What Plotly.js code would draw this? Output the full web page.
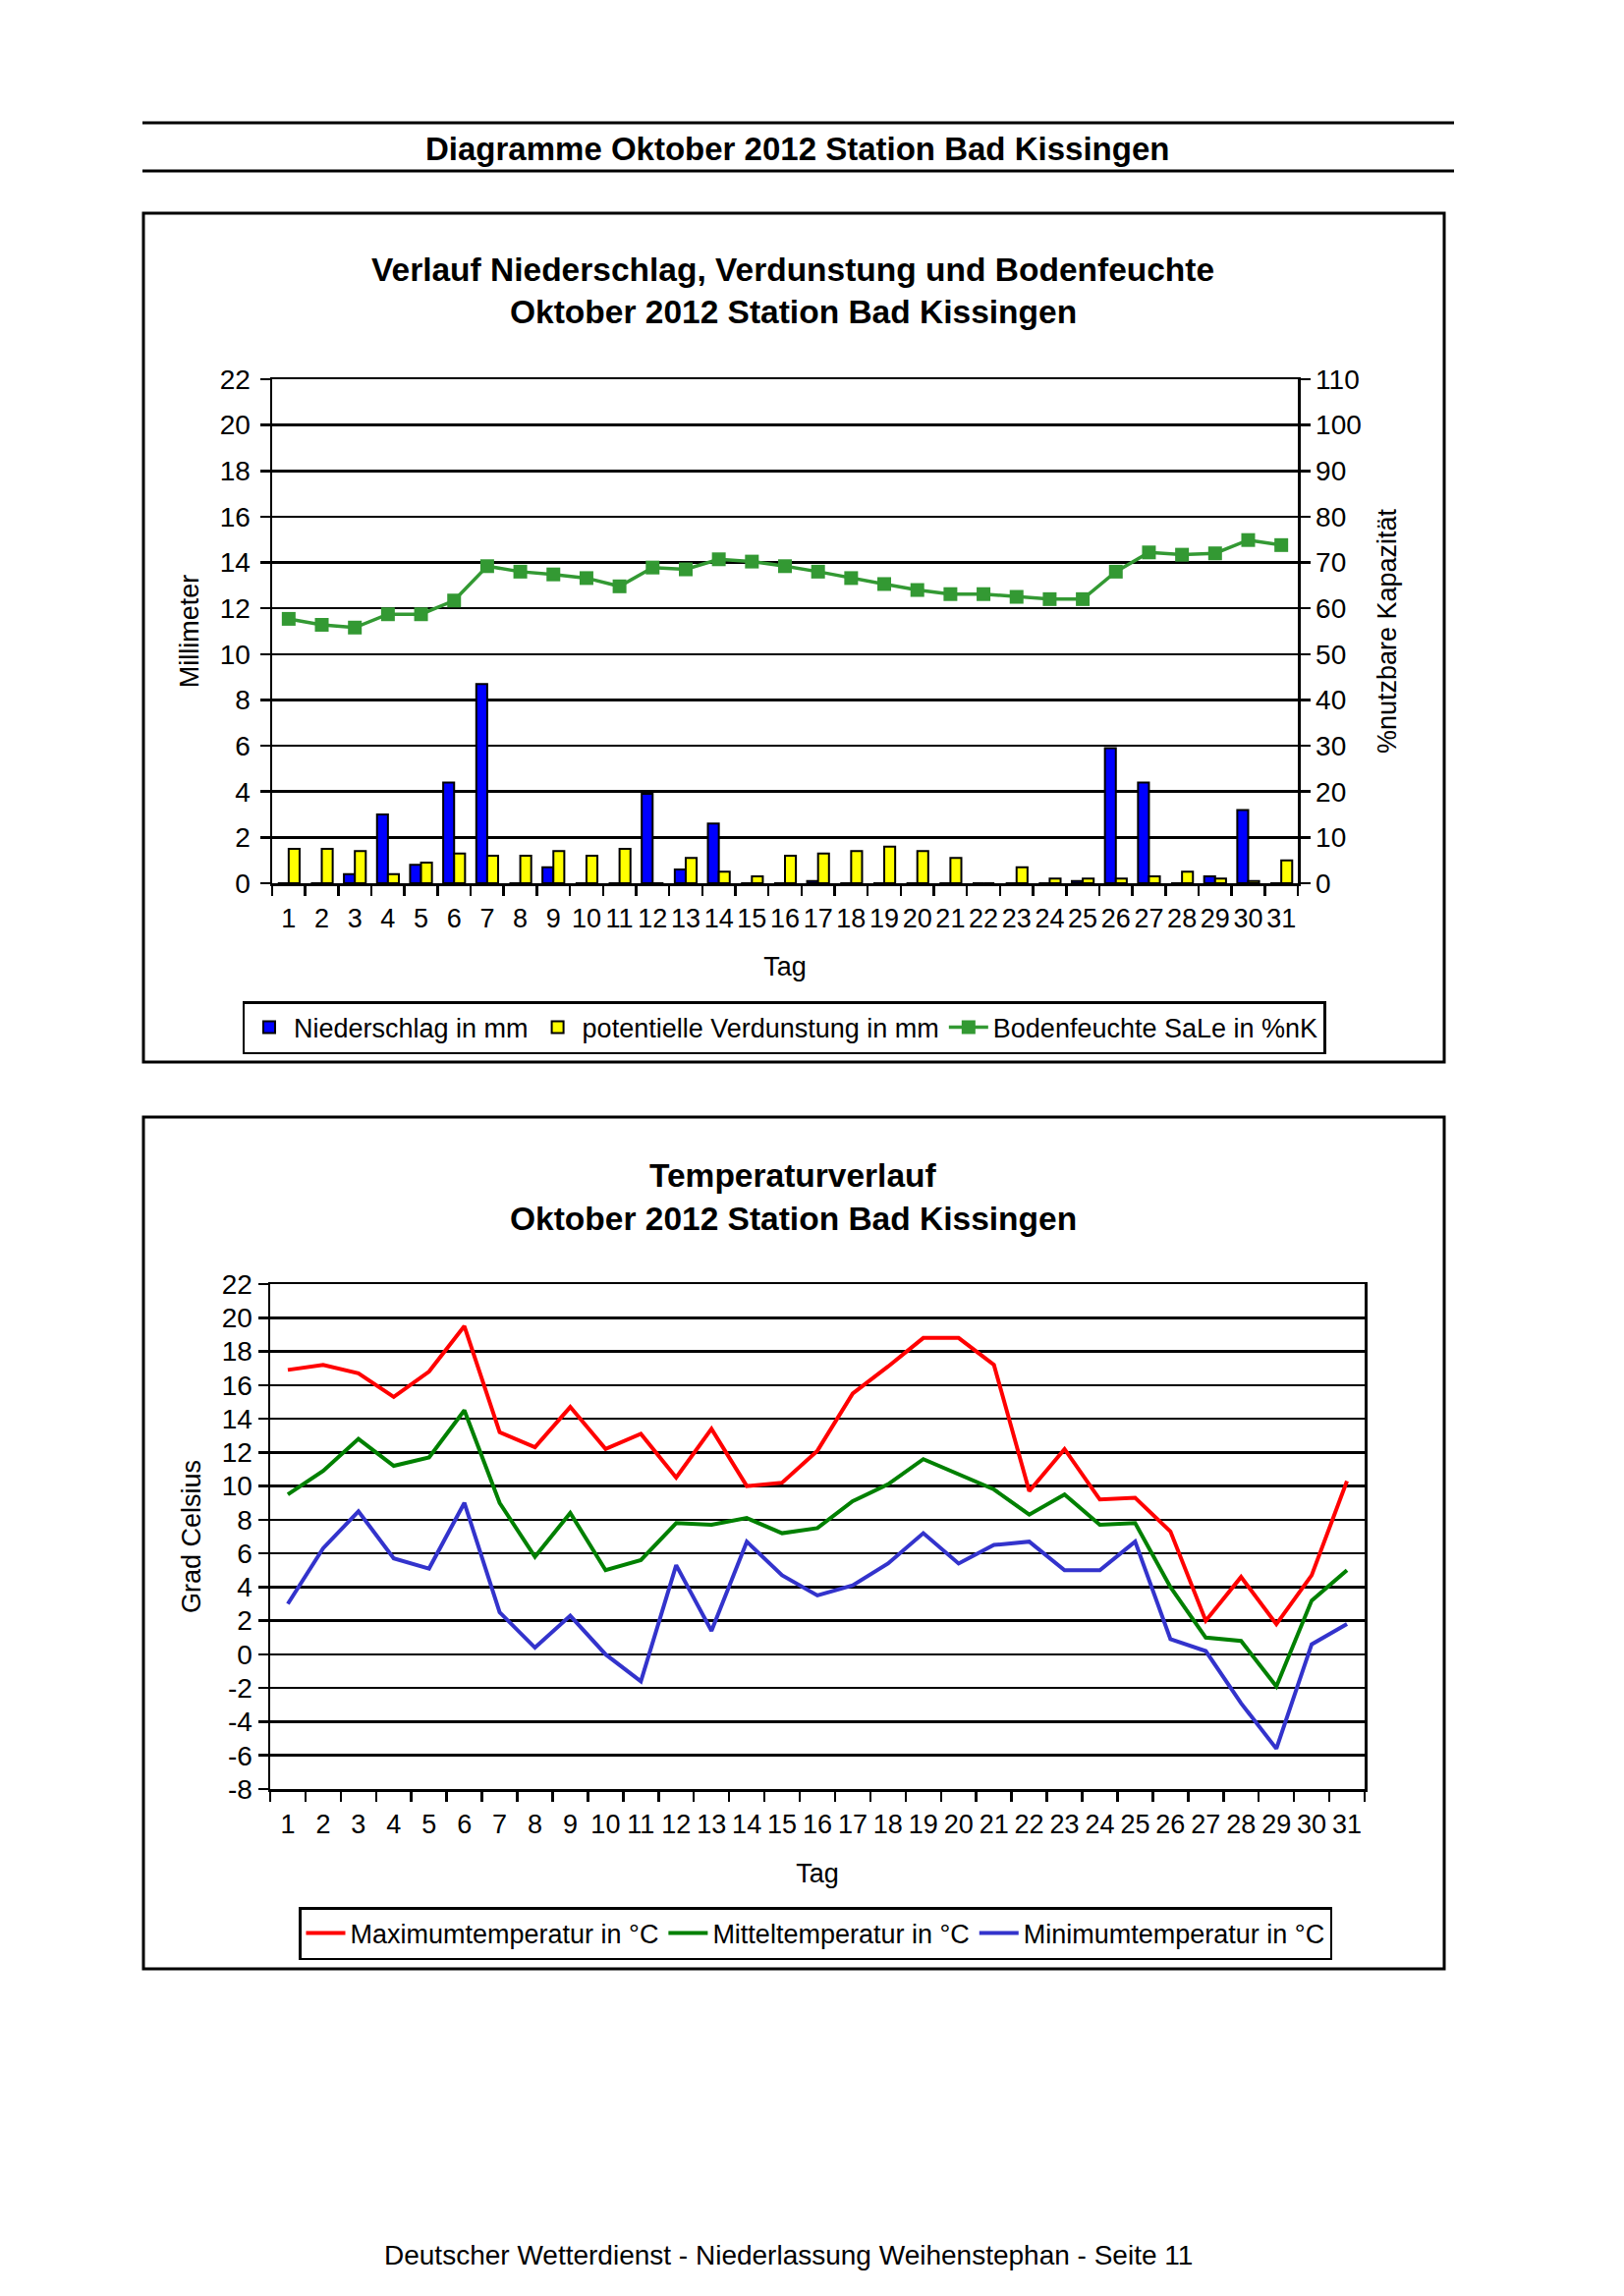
<!DOCTYPE html>
<html>
<head>
<meta charset="utf-8">
<script src="https://cdn.plot.ly/plotly-3.0.1.min.js"></script>
<style>
  html, body { margin: 0; padding: 0; background: #ffffff; }
  #chart { width: 1653px; height: 2337px; }
</style>
</head>
<body>
<div id="chart"></div>
<script>
// ---------- data ----------
var days = ['1','2','3','4','5','6','7','8','9','10','11','12','13','14','15','16','17','18','19','20','21','22','23','24','25','26','27','28','29','30','31'];

var niederschlag = [0, 0, 0.4, 3.0, 0.8, 4.4, 8.7, 0, 0.7, 0, 0, 3.9, 0.6, 2.6, 0, 0, 0.1, 0, 0, 0, 0, 0, 0, 0, 0.1, 5.9, 4.4, 0, 0.3, 3.2, 0];
var verdunstung  = [1.5, 1.5, 1.4, 0.4, 0.9, 1.3, 1.2, 1.2, 1.4, 1.2, 1.5, 0, 1.1, 0.5, 0.3, 1.2, 1.3, 1.4, 1.6, 1.4, 1.1, 0, 0.7, 0.2, 0.2, 0.2, 0.3, 0.5, 0.2, 0.1, 1.0];
var bodenfeuchte = [57.7, 56.4, 55.8, 58.7, 58.7, 61.7, 69.2, 68.0, 67.4, 66.6, 64.8, 68.9, 68.5, 70.7, 70.2, 69.2, 68.0, 66.6, 65.3, 64.0, 63.1, 63.1, 62.5, 62.0, 62.0, 68.0, 72.2, 71.7, 72.0, 74.9, 73.8];

var tmax = [16.9, 17.2, 16.7, 15.3, 16.8, 19.5, 13.2, 12.3, 14.7, 12.2, 13.1, 10.5, 13.4, 10.0, 10.2, 12.1, 15.5, 17.1, 18.8, 18.8, 17.2, 9.7, 12.2, 9.2, 9.3, 7.3, 2.0, 4.6, 1.8, 4.7, 10.3];
var tmit = [9.5, 10.9, 12.8, 11.2, 11.7, 14.5, 9.0, 5.8, 8.4, 5.0, 5.6, 7.8, 7.7, 8.1, 7.2, 7.5, 9.1, 10.1, 11.6, 10.7, 9.8, 8.3, 9.5, 7.7, 7.8, 4.0, 1.0, 0.8, -1.9, 3.2, 5.0];
var tmin = [3.0, 6.3, 8.5, 5.7, 5.1, 9.0, 2.5, 0.4, 2.3, 0.0, -1.6, 5.3, 1.4, 6.7, 4.7, 3.5, 4.1, 5.4, 7.2, 5.4, 6.5, 6.7, 5.0, 5.0, 6.7, 0.9, 0.2, -2.9, -5.6, 0.6, 1.8];

// temperature axis tick labels (plain hyphen minus as in the original)
var tempTickVals = [-8, -6, -4, -2, 0, 2, 4, 6, 8, 10, 12, 14, 16, 18, 20, 22];
var tempTickText = ['-8', '-6', '-4', '-2', '0', '2', '4', '6', '8', '10', '12', '14', '16', '18', '20', '22'];

// ---------- texts ----------
var headerText = 'Diagramme Oktober 2012 Station Bad Kissingen';
var title1a = 'Verlauf Niederschlag, Verdunstung und Bodenfeuchte';
var title1b = 'Oktober 2012 Station Bad Kissingen';
var title2a = 'Temperaturverlauf';
var title2b = 'Oktober 2012 Station Bad Kissingen';
var footerText = 'Deutscher Wetterdienst - Niederlassung Weihenstephan - Seite 11';

// ---------- geometry helpers (page pixels -> paper) ----------
var W = 1653, H = 2337;
function px(x) { return x / W; }
function py(y) { return 1 - y / H; }

var FONT = 'Liberation Sans, Arial, sans-serif';
var tickFont = { family: FONT, size: 28, color: '#000' };
var xTickFont = { family: FONT, size: 27, color: '#000' };
var axTitleFont = { family: FONT, size: 27, color: '#000' };

var traces = [
  { type: 'bar', x: days, y: niederschlag, name: 'Niederschlag in mm', xaxis: 'x', yaxis: 'y',
    marker: { color: '#0000FF', line: { color: '#000', width: 2 } }, legend: 'legend' },
  { type: 'bar', x: days, y: verdunstung, name: 'potentielle Verdunstung in mm', xaxis: 'x', yaxis: 'y',
    marker: { color: '#FFFF00', line: { color: '#000', width: 2 } }, legend: 'legend' },
  { type: 'scatter', mode: 'lines+markers', x: days, y: bodenfeuchte, name: 'Bodenfeuchte SaLe in %nK',
    xaxis: 'x', yaxis: 'y2', line: { color: '#339933', width: 3.5 },
    marker: { symbol: 'square', size: 14, color: '#339933' }, legend: 'legend' },
  { type: 'scatter', mode: 'lines', x: days, y: tmax, name: 'Maximumtemperatur in °C', xaxis: 'x2', yaxis: 'y3',
    line: { color: '#FF0000', width: 4 }, legend: 'legend2' },
  { type: 'scatter', mode: 'lines', x: days, y: tmit, name: 'Mitteltemperatur in °C', xaxis: 'x2', yaxis: 'y3',
    line: { color: '#008000', width: 4 }, legend: 'legend2' },
  { type: 'scatter', mode: 'lines', x: days, y: tmin, name: 'Minimumtemperatur in °C', xaxis: 'x2', yaxis: 'y3',
    line: { color: '#3333CC', width: 4 }, legend: 'legend2' }
];

var xCommon = {
  type: 'category', tickmode: 'linear', tick0: 0, dtick: 1,
  tickson: 'boundaries', ticks: 'outside', ticklen: 10, tickwidth: 2.5, tickcolor: '#000',
  showline: true, linecolor: '#000', linewidth: 2.5, mirror: true, showgrid: false, zeroline: false,
  tickfont: xTickFont, tickangle: 0, ticklabelstandoff: 10, range: [-0.5, 30.5], automargin: false, fixedrange: true
};
var yCommon = {
  ticks: 'outside', ticklen: 10, tickwidth: 2.5, tickcolor: '#000', showline: true, linecolor: '#000',
  linewidth: 2.5, showgrid: true, gridcolor: '#000', gridwidth: 2.5, zeroline: false, tickfont: tickFont,
  automargin: false, fixedrange: true
};

var layout = {
  width: W, height: H,
  margin: { l: 0, r: 0, t: 0, b: 0, pad: 0 },
  paper_bgcolor: '#ffffff', plot_bgcolor: 'rgba(0,0,0,0)',
  font: { family: FONT, size: 27, color: '#000' },
  barmode: 'group', bargap: 0.34, bargroupgap: 0,
  xaxis: Object.assign({}, xCommon, { domain: [px(277), px(1321)], anchor: 'y',
    title: { text: 'Tag', font: axTitleFont, standoff: 25 } }),
  yaxis: Object.assign({}, yCommon, { domain: [py(899), py(386)], anchor: 'x', range: [0, 22], dtick: 2, tick0: 0,
    ticklabelstandoff: 4, title: { text: 'Millimeter', font: axTitleFont, standoff: 14 } }),
  yaxis2: Object.assign({}, yCommon, { overlaying: 'y', side: 'right', anchor: 'x', range: [0, 110], dtick: 10, tick0: 0,
    showgrid: false, title: { text: '%nutzbare Kapazität', font: axTitleFont, standoff: 18 } }),
  xaxis2: Object.assign({}, xCommon, { domain: [px(275), px(1389)], anchor: 'y3',
    title: { text: 'Tag', font: axTitleFont, standoff: 26 } }),
  yaxis3: Object.assign({}, yCommon, { domain: [py(1821), py(1307)], anchor: 'x2', range: [-8, 22],
    tickmode: 'array', tickvals: tempTickVals, ticktext: tempTickText,
    mirror: true, title: { text: 'Grad Celsius', font: axTitleFont, standoff: 14 } }),
  legend: {
    orientation: 'h', x: px(798), y: py(1046), xanchor: 'center', yanchor: 'middle',
    bordercolor: '#000', borderwidth: 2.5, bgcolor: '#fff', font: { family: FONT, size: 27 },
    traceorder: 'normal', itemclick: false, itemwidth: 40
  },
  legend2: {
    orientation: 'h', x: px(830), y: py(1968), xanchor: 'center', yanchor: 'middle',
    bordercolor: '#000', borderwidth: 2.5, bgcolor: '#fff', font: { family: FONT, size: 27 },
    traceorder: 'normal', itemclick: false, itemwidth: 40
  },
  shapes: [
    // header rules
    { type: 'line', xref: 'paper', yref: 'paper', x0: px(145), x1: px(1480), y0: py(125), y1: py(125), line: { color: '#000', width: 3 } },
    { type: 'line', xref: 'paper', yref: 'paper', x0: px(145), x1: px(1480), y0: py(174), y1: py(174), line: { color: '#000', width: 3 } },
    // chart frames
    { type: 'rect', xref: 'paper', yref: 'paper', x0: px(146), x1: px(1470), y0: py(217), y1: py(1081), line: { color: '#000', width: 3 } },
    { type: 'rect', xref: 'paper', yref: 'paper', x0: px(146), x1: px(1470), y0: py(1137), y1: py(2004), line: { color: '#000', width: 3 } }
  ],
  annotations: [
    { xref: 'paper', yref: 'paper', x: px(811), y: py(151), text: '<b>' + headerText + '</b>', showarrow: false,
      xanchor: 'center', yanchor: 'middle', font: { family: FONT, size: 33 } },
    { xref: 'paper', yref: 'paper', x: px(807), y: py(274), text: '<b>' + title1a + '</b>', showarrow: false,
      xanchor: 'center', yanchor: 'middle', font: { family: FONT, size: 33.5 } },
    { xref: 'paper', yref: 'paper', x: px(807), y: py(318), text: '<b>' + title1b + '</b>', showarrow: false,
      xanchor: 'center', yanchor: 'middle', font: { family: FONT, size: 33.5 } },
    { xref: 'paper', yref: 'paper', x: px(807), y: py(1196), text: '<b>' + title2a + '</b>', showarrow: false,
      xanchor: 'center', yanchor: 'middle', font: { family: FONT, size: 33.5 } },
    { xref: 'paper', yref: 'paper', x: px(807), y: py(1240), text: '<b>' + title2b + '</b>', showarrow: false,
      xanchor: 'center', yanchor: 'middle', font: { family: FONT, size: 33.5 } },
    { xref: 'paper', yref: 'paper', x: px(802), y: py(2295), text: footerText, showarrow: false,
      xanchor: 'center', yanchor: 'middle', font: { family: FONT, size: 28 } }
  ]
};

Plotly.newPlot('chart', traces, layout, { staticPlot: true, displayModeBar: false });
</script>
</body>
</html>
